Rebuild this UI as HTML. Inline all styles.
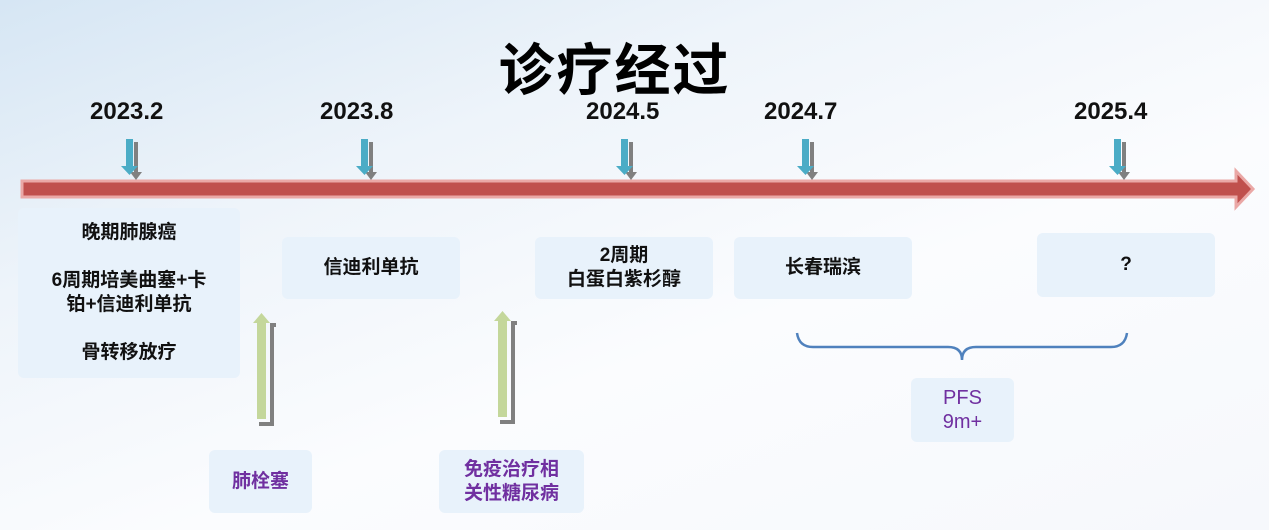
<!DOCTYPE html>
<html><head><meta charset="utf-8"><style>
html,body{margin:0;padding:0}
body{width:1269px;height:530px;overflow:hidden;position:relative;font-family:"Liberation Sans","Noto Sans CJK SC",sans-serif;
background:linear-gradient(160deg,#d6e6f4 0%,#eef4fa 30%,#fbfcfe 60%,#f6f8fc 100%);}
.t{position:absolute;text-align:center;}
.box{position:absolute;background:#e8f2fb;border-radius:6px;display:flex;align-items:center;justify-content:center;text-align:center;font-size:19px;font-weight:bold;color:#111;line-height:24px}
.p{color:#7030a0;font-weight:bold;font-size:19px;line-height:24px}
.d{position:absolute;top:98px;font-size:24px;font-weight:600;color:#111}
</style></head><body>
<div class="t" style="left:-20px;width:1269px;top:26px;font-size:56px;font-weight:bold;color:#000;letter-spacing:2px">诊疗经过</div>
<div class="d" style="left:90px">2023.2</div>
<div class="d" style="left:320px">2023.8</div>
<div class="d" style="left:586px">2024.5</div>
<div class="d" style="left:764px">2024.7</div>
<div class="d" style="left:1074px">2025.4</div>
<svg width="1269" height="530" style="position:absolute;left:0;top:0">
<polygon points="22,181 1236,181 1236,171 1253,189 1236,207 1236,197 22,197" fill="#c0504d" stroke="#eaa8a6" stroke-width="3"/>
<path d="M797,333 Q799,347 813,347 L948,347 Q962,347 962,360 Q962,347 976,347 L1111,347 Q1125,347 1127,333" fill="none" stroke="#4f81bd" stroke-width="2.5"/>
<g>
<rect x="134" y="142" width="4" height="30" fill="#808080"/><polygon points="130,172 142,172 136,180" fill="#808080"/>
<rect x="126" y="139" width="7" height="28" fill="#4bacc6"/><polygon points="121,166 138,166 129.5,175" fill="#4bacc6"/>
</g>
<g transform="translate(235,0)">
<rect x="134" y="142" width="4" height="30" fill="#808080"/><polygon points="130,172 142,172 136,180" fill="#808080"/>
<rect x="126" y="139" width="7" height="28" fill="#4bacc6"/><polygon points="121,166 138,166 129.5,175" fill="#4bacc6"/>
</g>
<g transform="translate(495,0)">
<rect x="134" y="142" width="4" height="30" fill="#808080"/><polygon points="130,172 142,172 136,180" fill="#808080"/>
<rect x="126" y="139" width="7" height="28" fill="#4bacc6"/><polygon points="121,166 138,166 129.5,175" fill="#4bacc6"/>
</g>
<g transform="translate(676,0)">
<rect x="134" y="142" width="4" height="30" fill="#808080"/><polygon points="130,172 142,172 136,180" fill="#808080"/>
<rect x="126" y="139" width="7" height="28" fill="#4bacc6"/><polygon points="121,166 138,166 129.5,175" fill="#4bacc6"/>
</g>
<g transform="translate(988,0)">
<rect x="134" y="142" width="4" height="30" fill="#808080"/><polygon points="130,172 142,172 136,180" fill="#808080"/>
<rect x="126" y="139" width="7" height="28" fill="#4bacc6"/><polygon points="121,166 138,166 129.5,175" fill="#4bacc6"/>
</g>
<g>
<polyline points="259,424 272,424 272,325 276,325" fill="none" stroke="#808080" stroke-width="4"/>
<rect x="257" y="322" width="9" height="97" fill="#c4d79b"/><polygon points="253,323 270,323 261.5,313" fill="#c4d79b"/>
</g>
<g transform="translate(241,-2)">
<polyline points="259,424 272,424 272,325 276,325" fill="none" stroke="#808080" stroke-width="4"/>
<rect x="257" y="322" width="9" height="97" fill="#c4d79b"/><polygon points="253,323 270,323 261.5,313" fill="#c4d79b"/>
</g>
</svg>
<div class="box" style="left:18px;top:208px;width:222px;height:170px;flex-direction:column">
<div>晚期肺腺癌</div><div style="height:24px"></div><div>6周期培美曲塞+卡<br>铂+信迪利单抗</div><div style="height:24px"></div><div>骨转移放疗</div></div>
<div class="box" style="left:282px;top:237px;width:178px;height:62px">信迪利单抗</div>
<div class="box" style="left:535px;top:237px;width:178px;height:62px">2周期<br>白蛋白紫杉醇</div>
<div class="box" style="left:734px;top:237px;width:178px;height:62px">长春瑞滨</div>
<div class="box" style="left:1037px;top:233px;width:178px;height:64px">?</div>
<div class="box p" style="left:209px;top:450px;width:103px;height:63px">肺栓塞</div>
<div class="box p" style="left:439px;top:450px;width:145px;height:63px">免疫治疗相<br>关性糖尿病</div>
<div class="box p" style="left:911px;top:378px;width:103px;height:64px;font-weight:normal;font-size:20px">PFS<br>9m+</div>
</body></html>
